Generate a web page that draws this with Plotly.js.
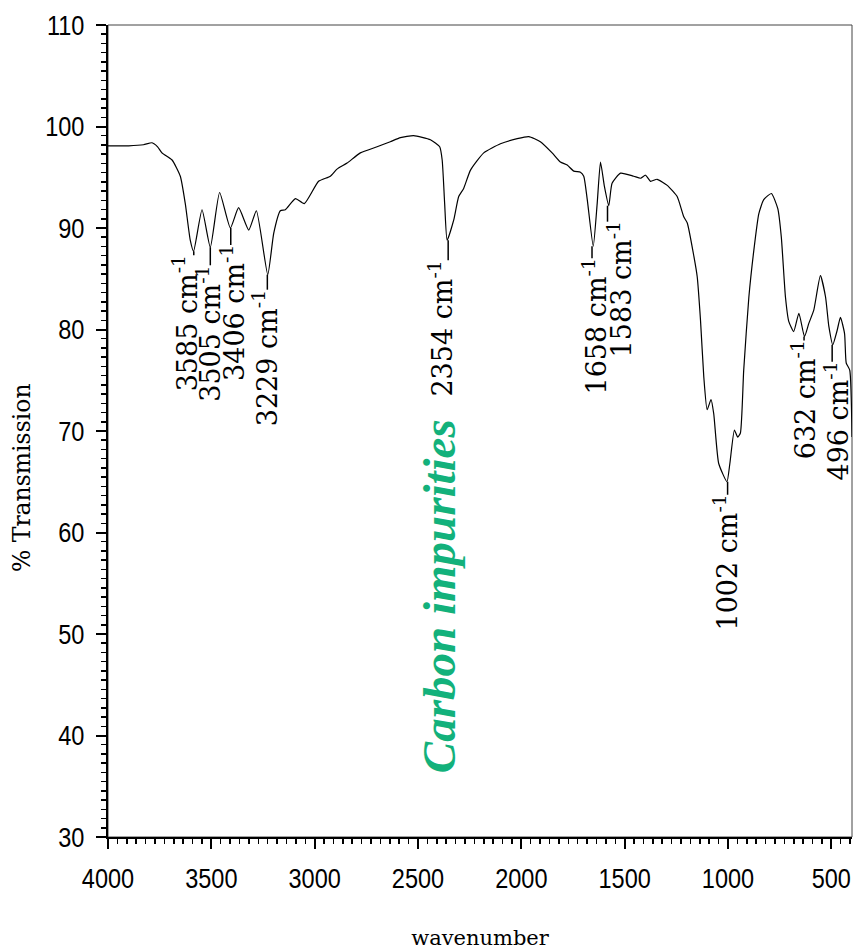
<!DOCTYPE html>
<html>
<head>
<meta charset="utf-8">
<script src="https://cdn.plot.ly/plotly-3.0.1.min.js"></script>
<style>
html,body{margin:0;padding:0;background:#fff;}
#chart{width:856px;height:950px;}
</style>
</head>
<body>
<div id="chart"></div>
<script>
// FTIR spectrum (wavenumber, cm-1) and % transmission
const wavenumber = [4000, 3900, 3828, 3787, 3760, 3739, 3690, 3650, 3626, 3602, 3586, 3545, 3505, 3460, 3408, 3368, 3319, 3282, 3227, 3198, 3166, 3142, 3093, 3050, 2981, 2924, 2892, 2843, 2779, 2698, 2634, 2585, 2521, 2440, 2395, 2383, 2371, 2359, 2327, 2303, 2279, 2246, 2182, 2101, 2020, 1964, 1908, 1851, 1811, 1778, 1746, 1714, 1698, 1681, 1652, 1633, 1617, 1598, 1577, 1561, 1520, 1456, 1423, 1399, 1375, 1343, 1294, 1246, 1214, 1197, 1165, 1149, 1133, 1117, 1101, 1082, 1069, 1045, 1005, 991, 969, 953, 940, 924, 899, 875, 851, 827, 790, 759, 742, 722, 706, 682, 657, 630, 609, 585, 553, 528, 512, 493, 472, 456, 436, 428, 411, 400];
const transmission = [98.1, 98.1, 98.2, 98.4, 98.0, 97.4, 96.7, 95.1, 92.4, 88.8, 87.7, 91.8, 88.1, 93.5, 90.0, 92.0, 89.8, 91.7, 85.4, 89.5, 91.7, 91.8, 92.9, 92.4, 94.6, 95.1, 95.8, 96.4, 97.4, 98.0, 98.5, 98.9, 99.1, 98.7, 98.0, 96.7, 92.4, 88.8, 90.8, 93.1, 93.9, 95.7, 97.4, 98.3, 98.8, 99.0, 98.5, 97.4, 96.5, 96.2, 95.6, 95.5, 95.1, 92.8, 88.2, 92.4, 96.5, 94.1, 92.2, 94.4, 95.4, 95.1, 94.9, 95.2, 94.6, 94.8, 94.2, 93.1, 91.1, 90.5, 87.2, 85.2, 80.9, 75.3, 72.1, 73.1, 71.7, 66.8, 65.0, 66.8, 70.1, 69.4, 69.8, 76.0, 83.2, 87.8, 91.4, 92.8, 93.4, 91.9, 89.1, 83.2, 80.8, 79.8, 81.6, 79.3, 80.6, 81.9, 85.3, 83.2, 80.3, 78.5, 79.9, 81.2, 79.6, 76.7, 76.0, 69.4];

// Labelled absorption bands
const peakWave = [3585, 3505, 3406, 3229, 2354, 1658, 1583, 1002, 632, 496];
const peakT = [87.7, 88.1, 90.0, 85.4, 88.8, 88.2, 92.2, 65.0, 79.3, 78.5];
const peakNumbers = ["3585", "3505", "3406", "3229", "2354", "1658", "1583", "1002", "632", "496"];
const unitText = " cm";
const unitSup = "-1";

// Axis ticks
const xTicks = [4000, 3500, 3000, 2500, 2000, 1500, 1000, 500];
const yTicks = [30, 40, 50, 60, 70, 80, 90, 100, 110];

// Big note
const noteText = "Carbon impurities";
const noteWave = 2395;
const noteT = 53.7;

// ---- styling / placement (pixels) ----
const labelDx = [-7, 0, 3, 0, -6, 4, 14, 0, 1, 6];      // horizontal nudge of each label text
const labelGap = [4, 18, 17, 15, 20, 12, 16, 13, 4, 17]; // leader length below the band minimum
const tickFont = {family: "'Liberation Sans', Arial, sans-serif", size: 28, color: '#000'};
const serifFam = "'DejaVu Serif', 'Liberation Serif', serif";
const labelFam = "DejaVu Serif";
const labelSize = 27;

// measure label lengths so the rotated text starts just below its leader line
const cv = document.createElement('canvas').getContext('2d');
function textW(s, size) { cv.font = size + "px '" + labelFam + "'"; return cv.measureText(s).width; }

const annotations = [];
const shapes = [
  {type: 'rect', xref: 'paper', yref: 'paper', x0: 0, x1: 1, y0: 0, y1: 1, line: {color: '#444', width: 1}, layer: 'below'}
];
peakWave.forEach((w, i) => {
  const L = textW(peakNumbers[i] + unitText, labelSize) + textW(unitSup, labelSize * 0.7) + 4;
  shapes.push({type: 'line', xref: 'x', yref: 'y', ysizemode: 'pixel', yanchor: peakT[i],
    x0: w, x1: w, y0: 0, y1: -labelGap[i], line: {color: '#000', width: 1.5}});
  annotations.push({
    x: w, y: peakT[i], xref: 'x', yref: 'y',
    text: peakNumbers[i] + unitText + '<sup>' + unitSup + '</sup>',
    textangle: -90, showarrow: false,
    xanchor: 'center', yanchor: 'middle',
    yshift: -(labelGap[i] + L / 2 - 2), xshift: labelDx[i] - 2,
    borderpad: 0, borderwidth: 0,
    font: {family: "'" + labelFam + "', serif", size: labelSize, color: '#000'}
  });
});
annotations.push({
  x: noteWave, y: noteT, xref: 'x', yref: 'y',
  text: noteText, textangle: -90, showarrow: false,
  font: {family: "'Liberation Serif', 'Times New Roman', serif", size: 47, color: '#13b17b', weight: 'bold', style: 'italic'}
});
// y axis title (sits below the axis middle in the reference)
annotations.push({
  xref: 'paper', yref: 'paper', x: -86 / 744, y: 0.442,
  text: '% Transmission', textangle: -90, showarrow: false,
  xanchor: 'center', yanchor: 'middle',
  font: {family: serifFam, size: 23.5, color: '#000'}
});

const trace = {
  x: wavenumber, y: transmission,
  type: 'scatter', mode: 'lines',
  line: {color: '#000', width: 1.2, shape: 'spline', smoothing: 0.5},
  hoverinfo: 'skip'
};

const layout = {
  width: 856, height: 950,
  margin: {l: 108, r: 4, t: 25, b: 113},
  paper_bgcolor: '#fff', plot_bgcolor: '#fff',
  showlegend: false,
  xaxis: {
    range: [4000, 400], autorange: false,
    tickmode: 'array', tickvals: xTicks, ticktext: xTicks.map(String),
    ticks: 'outside', ticklen: 10, tickwidth: 2, tickcolor: '#000',
    showline: true, linewidth: 2, linecolor: '#000',
    showgrid: false, zeroline: false,
    tickfont: tickFont, ticklabelstandoff: 5,
    minor: {tick0: 500, dtick: 500/11, ticks: 'outside', ticklen: 5, tickwidth: 1.5, tickcolor: '#000', showgrid: false},
    title: {text: 'wavenumber', font: {family: serifFam, size: 21, color: '#000'}, standoff: 38}
  },
  yaxis: {
    range: [30, 110], autorange: false,
    tickmode: 'array', tickvals: yTicks, ticktext: yTicks.map(String),
    ticks: 'outside', ticklen: 10, tickwidth: 2, tickcolor: '#000',
    showline: true, linewidth: 2, linecolor: '#000',
    showgrid: false, zeroline: false,
    tickfont: tickFont, ticklabelstandoff: 6,
    minor: {tick0: 30, dtick: 10/11, ticks: 'outside', ticklen: 5, tickwidth: 1.5, tickcolor: '#000', showgrid: false}
  },
  shapes: shapes,
  annotations: annotations
};

Plotly.newPlot('chart', [trace], layout, {displayModeBar: false, staticPlot: true}).then(gd => {
  // condense the tick labels (reference uses a narrow sans face)
  gd.querySelectorAll('.xtick text, .ytick text').forEach(t => {
    const len = t.getComputedTextLength();
    t.setAttribute('textLength', (len * 0.84).toFixed(1));
    t.setAttribute('lengthAdjust', 'spacingAndGlyphs');
  });
});
</script>
</body>
</html>
